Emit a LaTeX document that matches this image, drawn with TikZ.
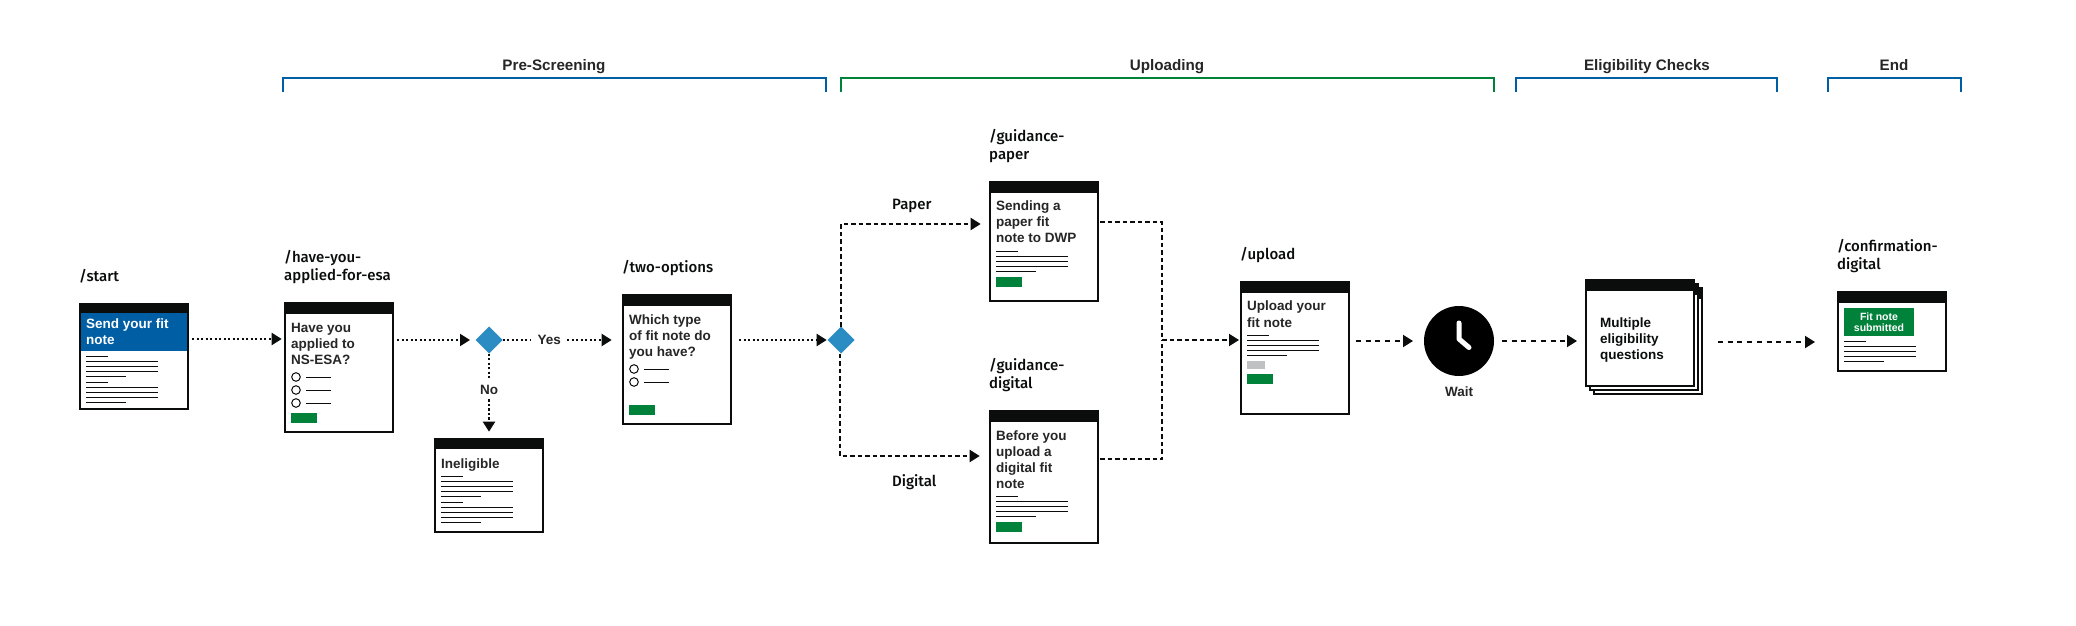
\documentclass[tikz,border=0pt]{standalone}
\usepackage{fontspec}
\usetikzlibrary{arrows.meta,shapes.geometric,calc}
\setmainfont{Liberation Sans}
\newfontfamily\helvb{Liberation Sans Bold}
\newfontfamily\pathf{Fira Sans Medium}
\definecolor{ink}{HTML}{0B0C0C}
\definecolor{txt}{HTML}{262626}
\definecolor{govblue}{HTML}{005EA5}
\definecolor{govgreen}{HTML}{00823B}
\definecolor{govlight}{HTML}{2B8CC4}
\definecolor{govgrey}{HTML}{BFC1C3}
\tikzset{
  screenbox/.style={draw=ink,fill=white,line width=2bp,inner sep=0pt,outer sep=1bp,rectangle},
  scrtext/.style={anchor=base west,inner sep=0pt,align=left,text=txt,font=\fontsize{13.5bp}{16bp}\helvb},
  pathlabel/.style={anchor=base west,inner sep=0pt,align=left,text=ink,yshift=-0.8bp,font=\fontsize{15bp}{18bp}\pathf},
  sectlabel/.style={anchor=base,inner sep=0pt,text=txt,font=\fontsize{15.2bp}{18bp}\helvb},
  midlabel/.style={anchor=base,inner sep=0pt,text=txt,font=\fontsize{13.5bp}{16bp}\helvb},
  bracket/.style={line width=2bp,miter limit=10},
  flow/.style={line width=2bp,draw=ink},
  dotline/.style={flow,dash pattern=on 2.2bp off 2.3bp},
  dashline/.style={flow,dash pattern=on 4.5bp off 3bp},
  longdash/.style={flow,dash pattern=on 5bp off 4.7bp},
  tip/.style={-{Triangle[length=10bp,width=12bp]}},
  junction/.style={diamond,fill=govlight,minimum width=27bp,minimum height=27bp,inner sep=0pt,outer sep=0pt},
  txline/.style={line width=1bp,draw=ink},
  radio/.style={circle,draw=ink,line width=1bp,minimum size=8.6bp,inner sep=0pt,fill=white},
}
\newcommand\screen[6]{%
  \pgfmathsetmacro\scx{(#2+#4)/2}\pgfmathsetmacro\scy{(#3+#5)/2}%
  \pgfmathsetmacro\scw{#4-#2-2}\pgfmathsetmacro\sch{#5-#3-2}%
  \node[screenbox,minimum width=\scw bp,minimum height=\sch bp] (#1) at (\scx,\scy) {};
  \fill[ink] (#2,#3) rectangle (#4,#6);
}
\newcommand\para[2]{%
  \pgfmathsetmacro\ya{#2+.5}\pgfmathsetmacro\yb{#2+5.5}\pgfmathsetmacro\yc{#2+10.5}\pgfmathsetmacro\yd{#2+15.5}\pgfmathsetmacro\ye{#2+20.5}%
  \draw[txline] (#1,\ya) -- ++(22,0);
  \draw[txline] (#1,\yb) -- ++(72,0);
  \draw[txline] (#1,\yc) -- ++(72,0);
  \draw[txline] (#1,\yd) -- ++(72,0);
  \draw[txline] (#1,\ye) -- ++(40,0);
}
\newcommand\radioitem[2]{%
  \node[radio] at (#1,#2) {};
  \draw[txline] (#1+10,#2+.5) -- ++(25,0);
}
\begin{document}
\begin{tikzpicture}[x=1bp,y=-1bp]
\useasboundingbox (0,0) rectangle (2076,626);
\fill[white] (0,0) rectangle (2076,626);

% section brackets
\draw[bracket,govblue] (282.7,92) -- (282.7,78) -- (826,78) -- (826,92);
\draw[bracket,govgreen] (840.7,92) -- (840.7,78) -- (1493.6,78) -- (1493.6,92);
\draw[bracket,govblue] (1516,92) -- (1516,78) -- (1777,78) -- (1777,92);
\draw[bracket,govblue] (1828,92) -- (1828,78) -- (1961,78) -- (1961,92);
\node[sectlabel] (secpre) at (554,71) {Pre-Screening};
\node[sectlabel] (secup) at (1167,71) {Uploading};
\node[sectlabel] (secel) at (1647,71) {Eligibility Checks};
\node[sectlabel] (secend) at (1894,71) {End};

% /start
\node[pathlabel] (lstart) at (79,281) {/start};
\screen{start}{79}{303}{189}{410}{313}
\fill[govblue] (81,313) rectangle (187,351);
\node[scrtext,text=white] (tstart) at (86,344) {Send your fit\\note};
\para{86}{356}
\para{86}{382}

% /have-you-applied-for-esa
\node[pathlabel] (lhave) at (284,280) {/have-you-\\applied-for-esa};
\screen{have}{284}{302}{394}{432.7}{314}
\node[scrtext] (thave) at (291,364) {Have you\\applied to\\NS-ESA?};
\radioitem{296}{377}
\radioitem{296}{390}
\radioitem{296}{403}
\fill[govgreen] (291,413) rectangle (317,423);

% decision 1
\node[junction] (d1) at (489,340) {};
\node[midlabel] (yes) at (549.3,344) {Yes};
\node[midlabel] (no) at (489,394) {No};

% Ineligible
\screen{inel}{434}{438}{544}{533}{449}
\node[scrtext] (tinel) at (441,468) {Ineligible};
\para{441}{476}
\para{441}{502}

% /two-options
\node[pathlabel] (ltwo) at (622,272) {/two-options};
\screen{two}{622}{294}{732}{425}{306}
\node[scrtext] (ttwo) at (629,356) {Which type\\of fit note do\\you have?};
\radioitem{634}{369}
\radioitem{634}{382}
\fill[govgreen] (629,405) rectangle (655,415);

% decision 2
\node[junction] (d2) at (841,340) {};
\node[pathlabel] (lpaper) at (892,208.5) {Paper};
\node[pathlabel] (ldigital) at (892,485.5) {Digital};

% /guidance-paper
\node[pathlabel] (lgp) at (989,159) {/guidance-\\paper};
\screen{gp}{989}{181}{1099}{302}{193}
\node[scrtext] (tgp) at (996,243) {Sending a\\paper fit\\note to DWP};
\para{996}{251}
\fill[govgreen] (996,277) rectangle (1022,287);

% /guidance-digital
\node[pathlabel] (lgd) at (989,388) {/guidance-\\digital};
\screen{gd}{989}{410}{1099}{544}{422}
\node[scrtext] (tgd) at (996,488) {Before you\\upload a\\digital fit\\note};
\para{996}{496}
\fill[govgreen] (996,522) rectangle (1022,532);

% /upload
\node[pathlabel] (lup) at (1240,259) {/upload};
\screen{up}{1240}{281}{1350}{415}{293}
\node[scrtext] (tup) at (1247,327) {Upload your\\fit note};
\para{1247}{335}
\fill[govgrey] (1247,361) rectangle (1265,369);
\fill[govgreen] (1247,374) rectangle (1273,384);

% clock
\node[circle,fill=black,minimum size=70bp,inner sep=0pt,outer sep=0pt] (clock) at (1459,341) {};
\draw[white,line width=5bp,line cap=round,line join=round] (1459,323) -- (1459,339) -- (1469,347.5);
\node[midlabel] (wait) at (1459,396) {Wait};

% multiple questions
\screen{multic}{1593}{287}{1703}{395}{299}
\screen{multib}{1589}{283}{1699}{391}{295}
\screen{multi}{1585}{279}{1695}{387}{291}
\node[scrtext,text=ink] (tmulti) at (1600,359) {Multiple\\eligibility\\questions};

% /confirmation-digital
\node[pathlabel] (lconf) at (1837,269) {/confirmation-\\digital};
\screen{conf}{1837}{291}{1947}{372}{303}
\fill[govgreen] (1844,308) rectangle (1914,336);
\node[anchor=base,inner sep=0pt,align=center,text=white,font=\fontsize{10.5bp}{10.3bp}\helvb] (tconf) at (1879,331) {Fit note\\submitted};
\para{1844}{341}

% connectors
\draw[dotline,tip,shorten <=3bp,shorten >=2.3bp] (start.east |- 0,339) -- (have.west |- 0,339);
\draw[dotline,tip,shorten <=3bp,shorten >=5.5bp] (have.east |- d1) -- (d1.west);
\draw[dotline] (d1.east) -- ($(yes.west |- d1)+(-7,0)$);
\draw[dotline,tip] ($(yes.east |- d1)+(6,0)$) -- ($(two.west |- d1)+(-10.3,0)$);
\draw[dotline] (d1.south) -- ($(no.north)+(0,-5)$);
\draw[dotline,tip,shorten >=6.3bp] ($(no.south)+(0,5)$) -- (inel.north);
\draw[dotline,tip,shorten <=7bp,shorten >=0.8bp] (two.east |- d2) -- (d2.west);
\draw[dashline,tip,shorten >=8.3bp] (d2.north) |- (gp.west |- 0,224);
\draw[dashline,tip,shorten >=9.3bp] ([xshift=-1bp]d2.south) |- (gd.west |- 0,456);
\coordinate (merge) at (1162,340);
\draw[dashline,shorten <=1bp] (gp.east |- 0,222) -| (merge);
\draw[dashline,shorten <=1bp] (gd.east |- 0,459) -| (merge);
\draw[dashline,tip,shorten >=1bp] (merge) -- (up.west |- merge);
\draw[longdash,tip,shorten <=6bp,shorten >=11bp] (up.east |- clock) -- (clock.west);
\draw[longdash,tip,shorten <=8bp,shorten >=8bp] (clock.east) -- (multi.west |- clock);
\draw[longdash,tip,shorten <=15bp,shorten >=22bp] (multic.east |- 0,342) -- (conf.west |- 0,342);
\end{tikzpicture}
\end{document}
